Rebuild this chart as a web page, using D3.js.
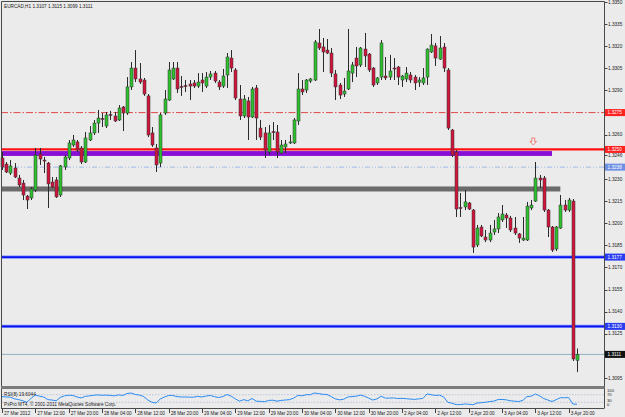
<!DOCTYPE html>
<meta charset="utf-8">
<style>
  body { margin: 0; background: #ebebeb; }
  svg { display: block; }
  text { font-family: "Liberation Sans", Arial, sans-serif; font-size: 4.7px; fill: #222; }
</style>
<body>
<script src="https://d3js.org/d3.v7.min.js"></script>
<script>
var width = 625, height = 417;

// EURCAD H1, one value per bar (27 Mar 04:00 .. 3 Apr 22:00)
var opens = [1.32442,1.32401,1.32340,1.32374,1.32306,1.32272,1.32184,1.32171,1.32225,1.32469,
  1.32428,1.32408,1.32279,1.32293,1.32191,1.32381,1.32442,1.32530,1.32551,1.32510,
  1.32415,1.32564,1.32612,1.32679,1.32710,1.32659,1.32737,1.32727,1.32700,1.32788,
  1.32747,1.32924,1.33052,1.32978,1.32971,1.32863,1.32612,1.32510,1.32408,1.32747,
  1.32835,1.32978,1.33052,1.32927,1.32933,1.32944,1.32951,1.32930,1.32971,1.32930,
  1.32991,1.33018,1.32957,1.32930,1.33005,1.33120,1.33039,1.32842,1.32727,1.32829,
  1.32720,1.32917,1.32645,1.32612,1.32483,1.32621,1.32618,1.32476,1.32517,1.32544,
  1.32544,1.32693,1.32910,1.32903,1.32964,1.32971,1.33222,1.33195,1.33174,1.33154,
  1.33012,1.32937,1.32876,1.32910,1.33018,1.33120,1.33073,1.33181,1.33147,1.33052,
  1.32951,1.32991,1.32998,1.32991,1.33052,1.33059,1.32971,1.32978,1.33005,1.32991,
  1.32957,1.32951,1.32991,1.33161,1.33202,1.33113,1.33195,1.33039,1.32632,1.32483,
  1.32106,1.32110,1.32137,1.32089,1.31852,1.31974,1.31906,1.31886,1.31940,1.31961,
  1.32022,1.32055,1.32035,1.31967,1.31927,1.31886,1.31886,1.32103,1.32150,1.32306,
  1.32306,1.32089,1.31974,1.31825,1.31967,1.32123,1.32089,1.32150,1.31070];
var highs = [1.32483,1.32415,1.32428,1.32408,1.32327,1.32293,1.32191,1.32245,1.32510,1.32510,
  1.32449,1.32415,1.32313,1.32313,1.32395,1.32462,1.32564,1.32598,1.32564,1.32523,
  1.32618,1.32659,1.32700,1.32768,1.32747,1.32754,1.32761,1.32754,1.32801,1.32795,
  1.32991,1.33093,1.33174,1.33086,1.32985,1.32876,1.32652,1.32537,1.32747,1.32903,
  1.33093,1.33093,1.33093,1.32998,1.32971,1.32971,1.32971,1.33018,1.33018,1.33025,
  1.33032,1.33032,1.32971,1.33046,1.33154,1.33174,1.33052,1.32937,1.32869,1.32856,
  1.32924,1.32937,1.32700,1.32652,1.32666,1.32686,1.32666,1.32564,1.32564,1.32598,
  1.32713,1.33018,1.32971,1.32978,1.32985,1.33242,1.33317,1.33256,1.33249,1.33188,
  1.33039,1.32951,1.32985,1.33317,1.33093,1.33195,1.33195,1.33290,1.33154,1.33059,
  1.32991,1.33242,1.33127,1.33141,1.33120,1.33066,1.33005,1.33059,1.33025,1.33005,
  1.32991,1.33052,1.33185,1.33283,1.33222,1.33269,1.33222,1.33052,1.32639,1.32496,
  1.32205,1.32225,1.32144,1.32096,1.31988,1.31988,1.31954,1.31988,1.32022,1.32069,
  1.32123,1.32069,1.32049,1.32042,1.31933,1.32042,1.32144,1.32157,1.32415,1.32327,
  1.32320,1.32096,1.31981,1.31981,1.32191,1.32157,1.32171,1.32164,1.31150];
var lows = [1.32361,1.32340,1.32327,1.32306,1.32245,1.32157,1.32096,1.32157,1.32211,1.32395,
  1.32340,1.32103,1.32239,1.32171,1.32178,1.32361,1.32428,1.32517,1.32483,1.32401,
  1.32408,1.32557,1.32598,1.32612,1.32652,1.32645,1.32700,1.32686,1.32693,1.32625,
  1.32734,1.32903,1.32957,1.32944,1.32863,1.32584,1.32517,1.32347,1.32381,1.32734,
  1.32829,1.32971,1.32883,1.32863,1.32890,1.32835,1.32917,1.32917,1.32890,1.32917,
  1.32971,1.32951,1.32903,1.32917,1.32917,1.33025,1.32835,1.32700,1.32713,1.32564,
  1.32713,1.32564,1.32564,1.32442,1.32462,1.32564,1.32442,1.32469,1.32476,1.32537,
  1.32537,1.32666,1.32869,1.32883,1.32951,1.32964,1.33174,1.33025,1.33147,1.32991,
  1.32835,1.32842,1.32856,1.32903,1.32957,1.32991,1.33059,1.33059,1.33025,1.32924,
  1.32937,1.32971,1.32971,1.32971,1.32971,1.32937,1.32924,1.32957,1.32951,1.32903,
  1.32924,1.32937,1.32937,1.33154,1.33066,1.33107,1.33025,1.32632,1.32449,1.32042,
  1.32042,1.32089,1.32089,1.31798,1.31838,1.31906,1.31872,1.31872,1.31920,1.31933,
  1.32008,1.31967,1.31940,1.31920,1.31866,1.31879,1.31879,1.32089,1.32144,1.32239,
  1.32076,1.31906,1.31805,1.31811,1.31961,1.32076,1.32076,1.31065,1.30990];
var closes = [1.32381,1.32347,1.32388,1.32313,1.32259,1.32191,1.32157,1.32232,1.32462,1.32435,
  1.32422,1.32266,1.32245,1.32178,1.32388,1.32449,1.32544,1.32564,1.32496,1.32415,
  1.32578,1.32612,1.32679,1.32713,1.32703,1.32734,1.32731,1.32693,1.32781,1.32747,
  1.32924,1.33052,1.32978,1.32957,1.32876,1.32598,1.32530,1.32395,1.32734,1.32842,
  1.33039,1.33052,1.32910,1.32920,1.32927,1.32930,1.32930,1.32957,1.32951,1.32991,
  1.33012,1.32964,1.32924,1.32998,1.33127,1.33052,1.32849,1.32727,1.32842,1.32720,
  1.32910,1.32713,1.32584,1.32496,1.32612,1.32615,1.32483,1.32530,1.32537,1.32551,
  1.32700,1.32910,1.32890,1.32971,1.32978,1.33229,1.33188,1.33161,1.33154,1.33018,
  1.32924,1.32869,1.32896,1.33032,1.33073,1.33066,1.33188,1.33134,1.33039,1.32937,
  1.32985,1.33222,1.32985,1.33032,1.33046,1.32991,1.32998,1.33018,1.32971,1.32951,
  1.32971,1.32985,1.33181,1.33208,1.33120,1.33188,1.33052,1.32645,1.32462,1.32096,
  1.32100,1.32144,1.32096,1.31838,1.31967,1.31913,1.31886,1.31933,1.31961,1.32042,
  1.32062,1.32035,1.31954,1.31933,1.31899,1.31899,1.32116,1.32123,1.32306,1.32293,
  1.32089,1.31974,1.31818,1.31974,1.32123,1.32089,1.32157,1.31079,1.31110];
var rsi = [60,58,57,48,44,38,30,52,68,62,
  58,44,42,38,56,64,67,66,58,53,
  61,64,67,69,67,68,66,64,69,66,
  76,79,71,68,60,42,30,26,48,58,
  66,66,60,58,58,57,57,61,58,63,
  66,60,55,60,71,62,48,36,44,38,
  50,36,35,33,40,41,36,40,42,44,
  52,66,64,70,70,79,76,72,71,60,
  48,43,46,58,60,62,68,62,52,42,
  48,62,52,52,53,50,51,49,47,45,
  48,50,74,70,66,68,58,30,25,18,
  18,21,20,17,26,28,30,34,36,44,
  45,43,38,36,34,40,60,62,74,64,
  50,42,34,44,54,54,55,21,19.6044];

var timeLabels = ["27 Mar 2012","27 Mar 12:00","27 Mar 20:00","28 Mar 04:00","28 Mar 12:00","28 Mar 20:00",
  "29 Mar 04:00","29 Mar 12:00","29 Mar 20:00","30 Mar 04:00","30 Mar 12:00","30 Mar 20:00",
  "2 Apr 04:00","2 Apr 12:00","2 Apr 20:00","3 Apr 04:00","3 Apr 12:00","3 Apr 20:00"];
var timeLabelBars = [0,8,16,24,32,40,48,56,64,72,80,88,96,104,112,120,128,136];

var priceTicks = [1.3350,1.3335,1.3320,1.3305,1.3290,1.3260,1.3246,1.3230,1.3215,1.3200,1.3185,1.3170,1.3155,1.3140,1.3125,1.3095];
var rsiTicks = [100,70,30,0];
var rsiTickY = [391.6, 396.4, 401.6, 406.4];   // label baselines, squeezed into the small window

// chart objects
var redDashLevel = 1.3275;
var redLevel = 1.3250;
var purpleBand = [1.32489, 1.32456], purpleEndBar = 132;
var blueDashLevel = 1.3238;
var grayBand = [1.32249, 1.32215], grayEndBar = 134;
var blueLevels = [1.3177, 1.3130];
var bidLevel = 1.3111;
var arrowBar = 127.5, arrowPrice = 1.3253;

var axisX = 604.5, mainTop = 1, mainBottom = 386, rsiTop = 389, rsiBottom = 408;

var svg = d3.select("body").append("svg")
  .attr("width", width)
  .attr("height", height);

svg.append("rect").attr("width", width).attr("height", height).attr("fill", "#ebebeb");

var x = d3.scaleLinear().domain([0, closes.length - 1]).range([2, 577]);
var y = d3.scaleLinear().domain([1.3095, 1.3350]).range([378, 2]);
var yR = d3.scaleLinear().domain([0, 100]).range([rsiBottom, rsiTop]);

var main = svg.append("g");

// horizontal objects
function hline(v, color, w, dash, x1) {
  main.append("line")
    .attr("x1", 1).attr("x2", x1 || axisX)
    .attr("y1", y(v)).attr("y2", y(v))
    .attr("stroke", color).attr("stroke-width", w)
    .attr("stroke-dasharray", dash || null);
}
hline(redDashLevel, "#e04a4a", 1, "7,2,1.5,2");
hline(blueDashLevel, "#a4bde8", 1, "5,2,1,2,1,2");
main.append("rect")
  .attr("x", 1).attr("width", x(grayEndBar) - 1)
  .attr("y", y(grayBand[0])).attr("height", y(grayBand[1]) - y(grayBand[0]))
  .attr("fill", "#6b6b6b");
main.append("rect")
  .attr("x", 1).attr("width", x(purpleEndBar) - 1)
  .attr("y", y(purpleBand[0])).attr("height", y(purpleBand[1]) - y(purpleBand[0]))
  .attr("fill", "#8a0fd6");
hline(redLevel, "#ff1010", 2.2);
blueLevels.forEach(function(v) {
  hline(v, "#7d8cff", 3.2);
  hline(v, "#0a14f0", 1.6);
});
hline(bidLevel, "#8fb0c0", 1);

// candles
var bars = main.selectAll(".bar")
  .data(closes.map(function(c, i) { return i; }))
  .enter().append("g").attr("class", "bar");

bars.append("line")
  .attr("x1", function(i) { return Math.round(x(i)) + 0.5; })
  .attr("x2", function(i) { return Math.round(x(i)) + 0.5; })
  .attr("y1", function(i) { return y(highs[i]); })
  .attr("y2", function(i) { return y(lows[i]); })
  .attr("stroke", "#2a2a2a").attr("stroke-width", 1);

bars.append("rect")
  .attr("x", function(i) { return Math.round(x(i)) - 1; })
  .attr("width", 3)
  .attr("y", function(i) { return y(Math.max(opens[i], closes[i])); })
  .attr("height", function(i) { return Math.max(1, Math.abs(y(opens[i]) - y(closes[i]))); })
  .attr("fill", function(i) {
    if (closes[i] > opens[i]) return "#2ec02e";
    if (closes[i] < opens[i]) return "#d0143c";
    return "#2a2a2a";
  })
  .attr("stroke", "#333").attr("stroke-width", 0.5);

// arrow
var ax = x(arrowBar), ay = y(arrowPrice);
main.append("path")
  .attr("d", "M" + (ax - 1.5) + "," + (ay - 7) + "h3v3.5h1.8l-3.3,3.5l-3.3,-3.5h1.8z")
  .attr("fill", "none").attr("stroke", "#f06a5a").attr("stroke-width", 0.8);

// frame
svg.append("path")
  .attr("d", "M1.5," + rsiBottom + "V1.5H" + axisX + "V" + rsiBottom)
  .attr("fill", "none").attr("stroke", "#4a4a4a").attr("stroke-width", 1);
svg.append("rect").attr("x", 1).attr("width", axisX - 1)
  .attr("y", mainBottom).attr("height", rsiTop - mainBottom).attr("fill", "#7c7c7c");
svg.append("line").attr("x1", 1).attr("x2", axisX)
  .attr("y1", rsiBottom + 0.5).attr("y2", rsiBottom + 0.5)
  .attr("stroke", "#4a4a4a");

// price axis
var pAxis = svg.append("g");
pAxis.selectAll(".tick").data(priceTicks).enter().append("line")
  .attr("x1", axisX).attr("x2", axisX + 3)
  .attr("y1", function(d) { return Math.round(y(d)) + 0.5; })
  .attr("y2", function(d) { return Math.round(y(d)) + 0.5; })
  .attr("stroke", "#444");
pAxis.selectAll(".lbl").data(priceTicks).enter().append("text")
  .attr("x", 608).attr("y", function(d) { return y(d) + 1.7; })
  .text(function(d) { return d.toFixed(4); });

var boxes = [
  {v: redDashLevel, bg: "#ff2020", fg: "#fff"},
  {v: redLevel, bg: "#ff2020", fg: "#fff"},
  {v: blueDashLevel, bg: "#6d8fe4", fg: "#fff"},
  {v: blueLevels[0], bg: "#2a3cf2", fg: "#fff"},
  {v: blueLevels[1], bg: "#2a3cf2", fg: "#fff"},
  {v: bidLevel, bg: "#111", fg: "#fff"}
];
boxes.forEach(function(b) {
  pAxis.append("rect").attr("x", 605).attr("width", 20)
    .attr("y", y(b.v) - 3.5).attr("height", 7).attr("fill", b.bg);
  pAxis.append("text").attr("x", 607.5).attr("y", y(b.v) + 1.7)
    .style("fill", b.fg).text(b.v.toFixed(4));
});

// RSI window
svg.selectAll(".rlev").data([70, 30]).enter().append("line")
  .attr("x1", 2).attr("x2", axisX)
  .attr("y1", function(d) { return yR(d); }).attr("y2", function(d) { return yR(d); })
  .attr("stroke", "#a9b6d2").attr("stroke-width", 0.7).attr("stroke-dasharray", "1.5,1.5");
svg.append("path")
  .datum(rsi)
  .attr("fill", "none").attr("stroke", "#2a8cf5").attr("stroke-width", 1)
  .attr("d", d3.line().x(function(d, i) { return x(i); }).y(function(d) { return yR(d); }));
svg.selectAll(".rt").data(rsiTicks).enter().append("text")
  .attr("x", 607)
  .attr("y", function(d, i) { return rsiTickY[i]; })
  .style("font-size", "4.2px")
  .text(function(d) { return d; });
svg.append("text").attr("x", 4).attr("y", 395.5)
  .text("RSI(8) " + rsi[rsi.length - 1].toFixed(4));
svg.append("text").attr("x", 4).attr("y", 406)
  .text("PxPro MT4, \u00a9 2001-2011 MetaQuotes Software Corp.");

// time axis
var tAxis = svg.append("g");
tAxis.selectAll("line").data(timeLabelBars).enter().append("line")
  .attr("x1", function(d) { return Math.round(x(d)) + 0.5; })
  .attr("x2", function(d) { return Math.round(x(d)) + 0.5; })
  .attr("y1", rsiBottom + 1).attr("y2", rsiBottom + 5)
  .attr("stroke", "#444");
tAxis.selectAll("text").data(timeLabelBars).enter().append("text")
  .attr("x", function(d) { return x(d) + 2; })
  .attr("y", 415)
  .text(function(d, i) { return timeLabels[i]; });

// header
var last = closes.length - 1;
svg.append("text").attr("x", 4).attr("y", 8)
  .text("EURCAD,H1  " + [opens[last], highs[last], lows[last], closes[last]].map(function(v) { return v.toFixed(4); }).join(" "));
</script>
